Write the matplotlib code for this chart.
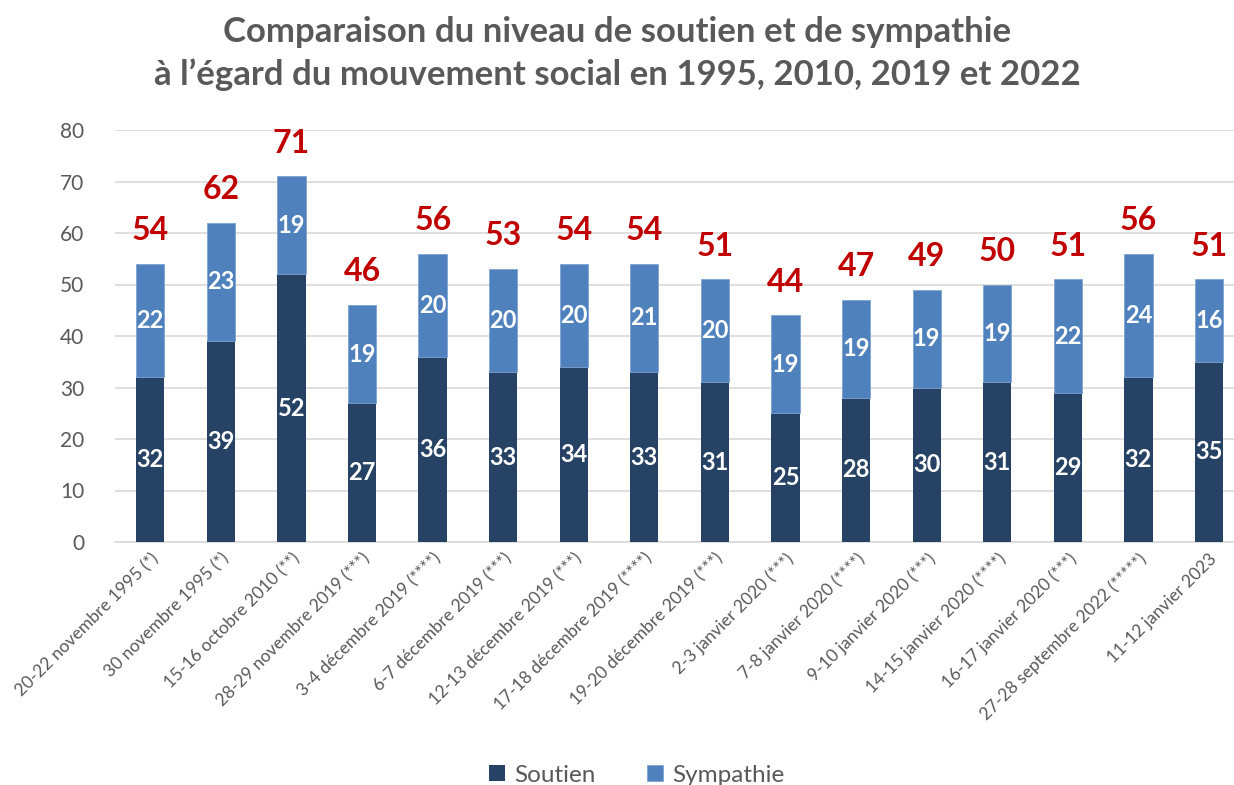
import matplotlib
matplotlib.use("Agg")
import matplotlib.pyplot as plt
import numpy as np

categories = [
    "20-22 novembre 1995 (*)", "30 novembre 1995 (*)", "15-16 octobre 2010 (**)",
    "28-29 novembre 2019 (***)", "3-4 décembre 2019 (****)", "6-7 décembre 2019 (***)",
    "12-13 décembre 2019 (***)", "17-18 décembre 2019 (****)", "19-20 décembre 2019 (***)",
    "2-3 janvier 2020 (***)", "7-8 janvier 2020 (****)", "9-10 janvier 2020 (***)",
    "14-15 janvier 2020 (****)", "16-17 janvier 2020 (***)", "27-28 septembre 2022 (*****)",
    "11-12 janvier 2023",
]
soutien = [32, 39, 52, 27, 36, 33, 34, 33, 31, 25, 28, 30, 31, 29, 32, 35]
sympathie = [22, 23, 19, 19, 20, 20, 20, 21, 20, 19, 19, 19, 19, 22, 24, 16]
totals = [54, 62, 71, 46, 56, 53, 54, 54, 51, 44, 47, 49, 50, 51, 56, 51]

plt.rcParams['font.family'] = ['Lato', 'DejaVu Sans']

W, H = 1234, 785
fig = plt.figure(figsize=(W / 100, H / 100), dpi=100)
left, right = 115, 1234
bottom, top = 542, 130
ax = fig.add_axes([left / W, (H - bottom) / H, (right - left) / W, (bottom - top) / H])

x = np.arange(len(categories))
c_sout = "#264264"
c_symp = "#4F81BD"
bw = 0.4
ax.bar(x, soutien, bw, color=c_sout, label="Soutien", zorder=3)
ax.bar(x, sympathie, bw, bottom=soutien, color=c_symp, label="Sympathie", zorder=3,
       edgecolor="#7FA3D3", linewidth=0.6)

for i in range(len(x)):
    ax.text(x[i], soutien[i] / 2, str(soutien[i]), ha="center", va="center",
            color="white", fontsize=17, fontweight="bold", zorder=4)
    ax.text(x[i], soutien[i] + sympathie[i] / 2, str(sympathie[i]), ha="center", va="center",
            color="white", fontsize=17, fontweight="bold", zorder=4)
    ax.annotate(str(totals[i]), (x[i], soutien[i] + sympathie[i]), xytext=(0, 24),
                textcoords="offset points", ha="center", va="center",
                color="#C00000", fontsize=23, fontweight="bold", annotation_clip=False)

ax.set_ylim(0, 80)
ax.set_yticks(range(0, 81, 10))
ax.set_xlim(-0.5, 15 + (1234 - 1209) / 70.6)
ax.set_xticks(x)
ax.set_xticklabels(categories, rotation=45, ha="right", rotation_mode="anchor",
                   fontsize=12.5, color="#595959")
ax.tick_params(axis="x", length=0, pad=6)
ax.tick_params(axis="y", length=0, labelsize=15, labelcolor="#595959", pad=22)
ax.grid(axis="y", color="#D9D9D9", linewidth=1.2, zorder=0)
for s in ["top", "right", "left"]:
    ax.spines[s].set_visible(False)
ax.spines["bottom"].set_color("#D9D9D9")
ax.spines["bottom"].set_linewidth(1.2)

fig.text(0.5, 1 - 32 / H, "Comparaison du niveau de soutien et de sympathie",
         ha="center", va="center", fontsize=25, fontweight="bold", color="#595959")
fig.text(0.5, 1 - 75 / H, "à l’égard du mouvement social en 1995, 2010, 2019 et 2022",
         ha="center", va="center", fontsize=25, fontweight="bold", color="#595959")

leg = fig.legend(loc="center", bbox_to_anchor=(637 / W, 1 - 775 / H), ncol=2,
                 frameon=False, fontsize=17.5, handlelength=0.65, handleheight=0.65,
                 columnspacing=2.1, handletextpad=0.4, labelcolor="#595959")

fig.savefig("out.png", dpi=100)
